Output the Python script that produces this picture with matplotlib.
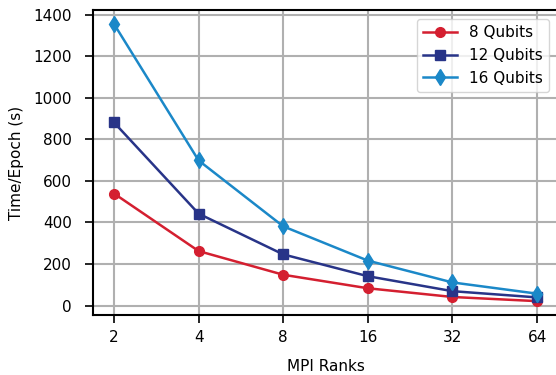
import matplotlib
matplotlib.use('Agg')
import matplotlib.pyplot as plt
from matplotlib.ticker import FixedLocator, FixedFormatter, NullLocator

ranks = [2, 4, 8, 16, 32, 64]
q8 = [539, 262, 148, 83, 41, 21]
q12 = [881, 442, 246, 141, 69, 39]
q16 = [1355, 698, 381, 216, 111, 57]

fig = plt.figure(figsize=(5.56, 3.75), dpi=100)
ax = fig.add_axes([0.167, 0.16, 0.837, 0.813])

ax.plot(ranks, q8, color='#d41f30', marker='o', markersize=7, linewidth=1.8, label='8 Qubits')
ax.plot(ranks, q12, color='#283488', marker='s', markersize=7, linewidth=1.8, label='12 Qubits')
ax.plot(ranks, q16, color='#1b88c8', marker='d', markersize=8, linewidth=1.8, label='16 Qubits')

ax.set_xscale('log', base=2)
ax.xaxis.set_major_locator(FixedLocator(ranks))
ax.xaxis.set_major_formatter(FixedFormatter([str(r) for r in ranks]))
ax.xaxis.set_minor_locator(NullLocator())
ax.set_yticks([0, 200, 400, 600, 800, 1000, 1200, 1400])

ax.grid(True, color='#b0b0b0', linewidth=1.5)
ax.set_axisbelow(True)
for s in ax.spines.values():
    s.set_linewidth(1.5)
ax.tick_params(labelsize=11, width=1.2, length=6)
ax.tick_params(axis='y', pad=9)
ax.tick_params(axis='x', pad=5)

ax.set_xlabel('MPI Ranks', fontsize=11, labelpad=10)
ax.set_ylabel('Time/Epoch (s)', fontsize=11, labelpad=7)
ax.legend(loc='upper right', fontsize=11, handlelength=2.2, borderaxespad=0.6)

fig.savefig('out.png', dpi=100)
